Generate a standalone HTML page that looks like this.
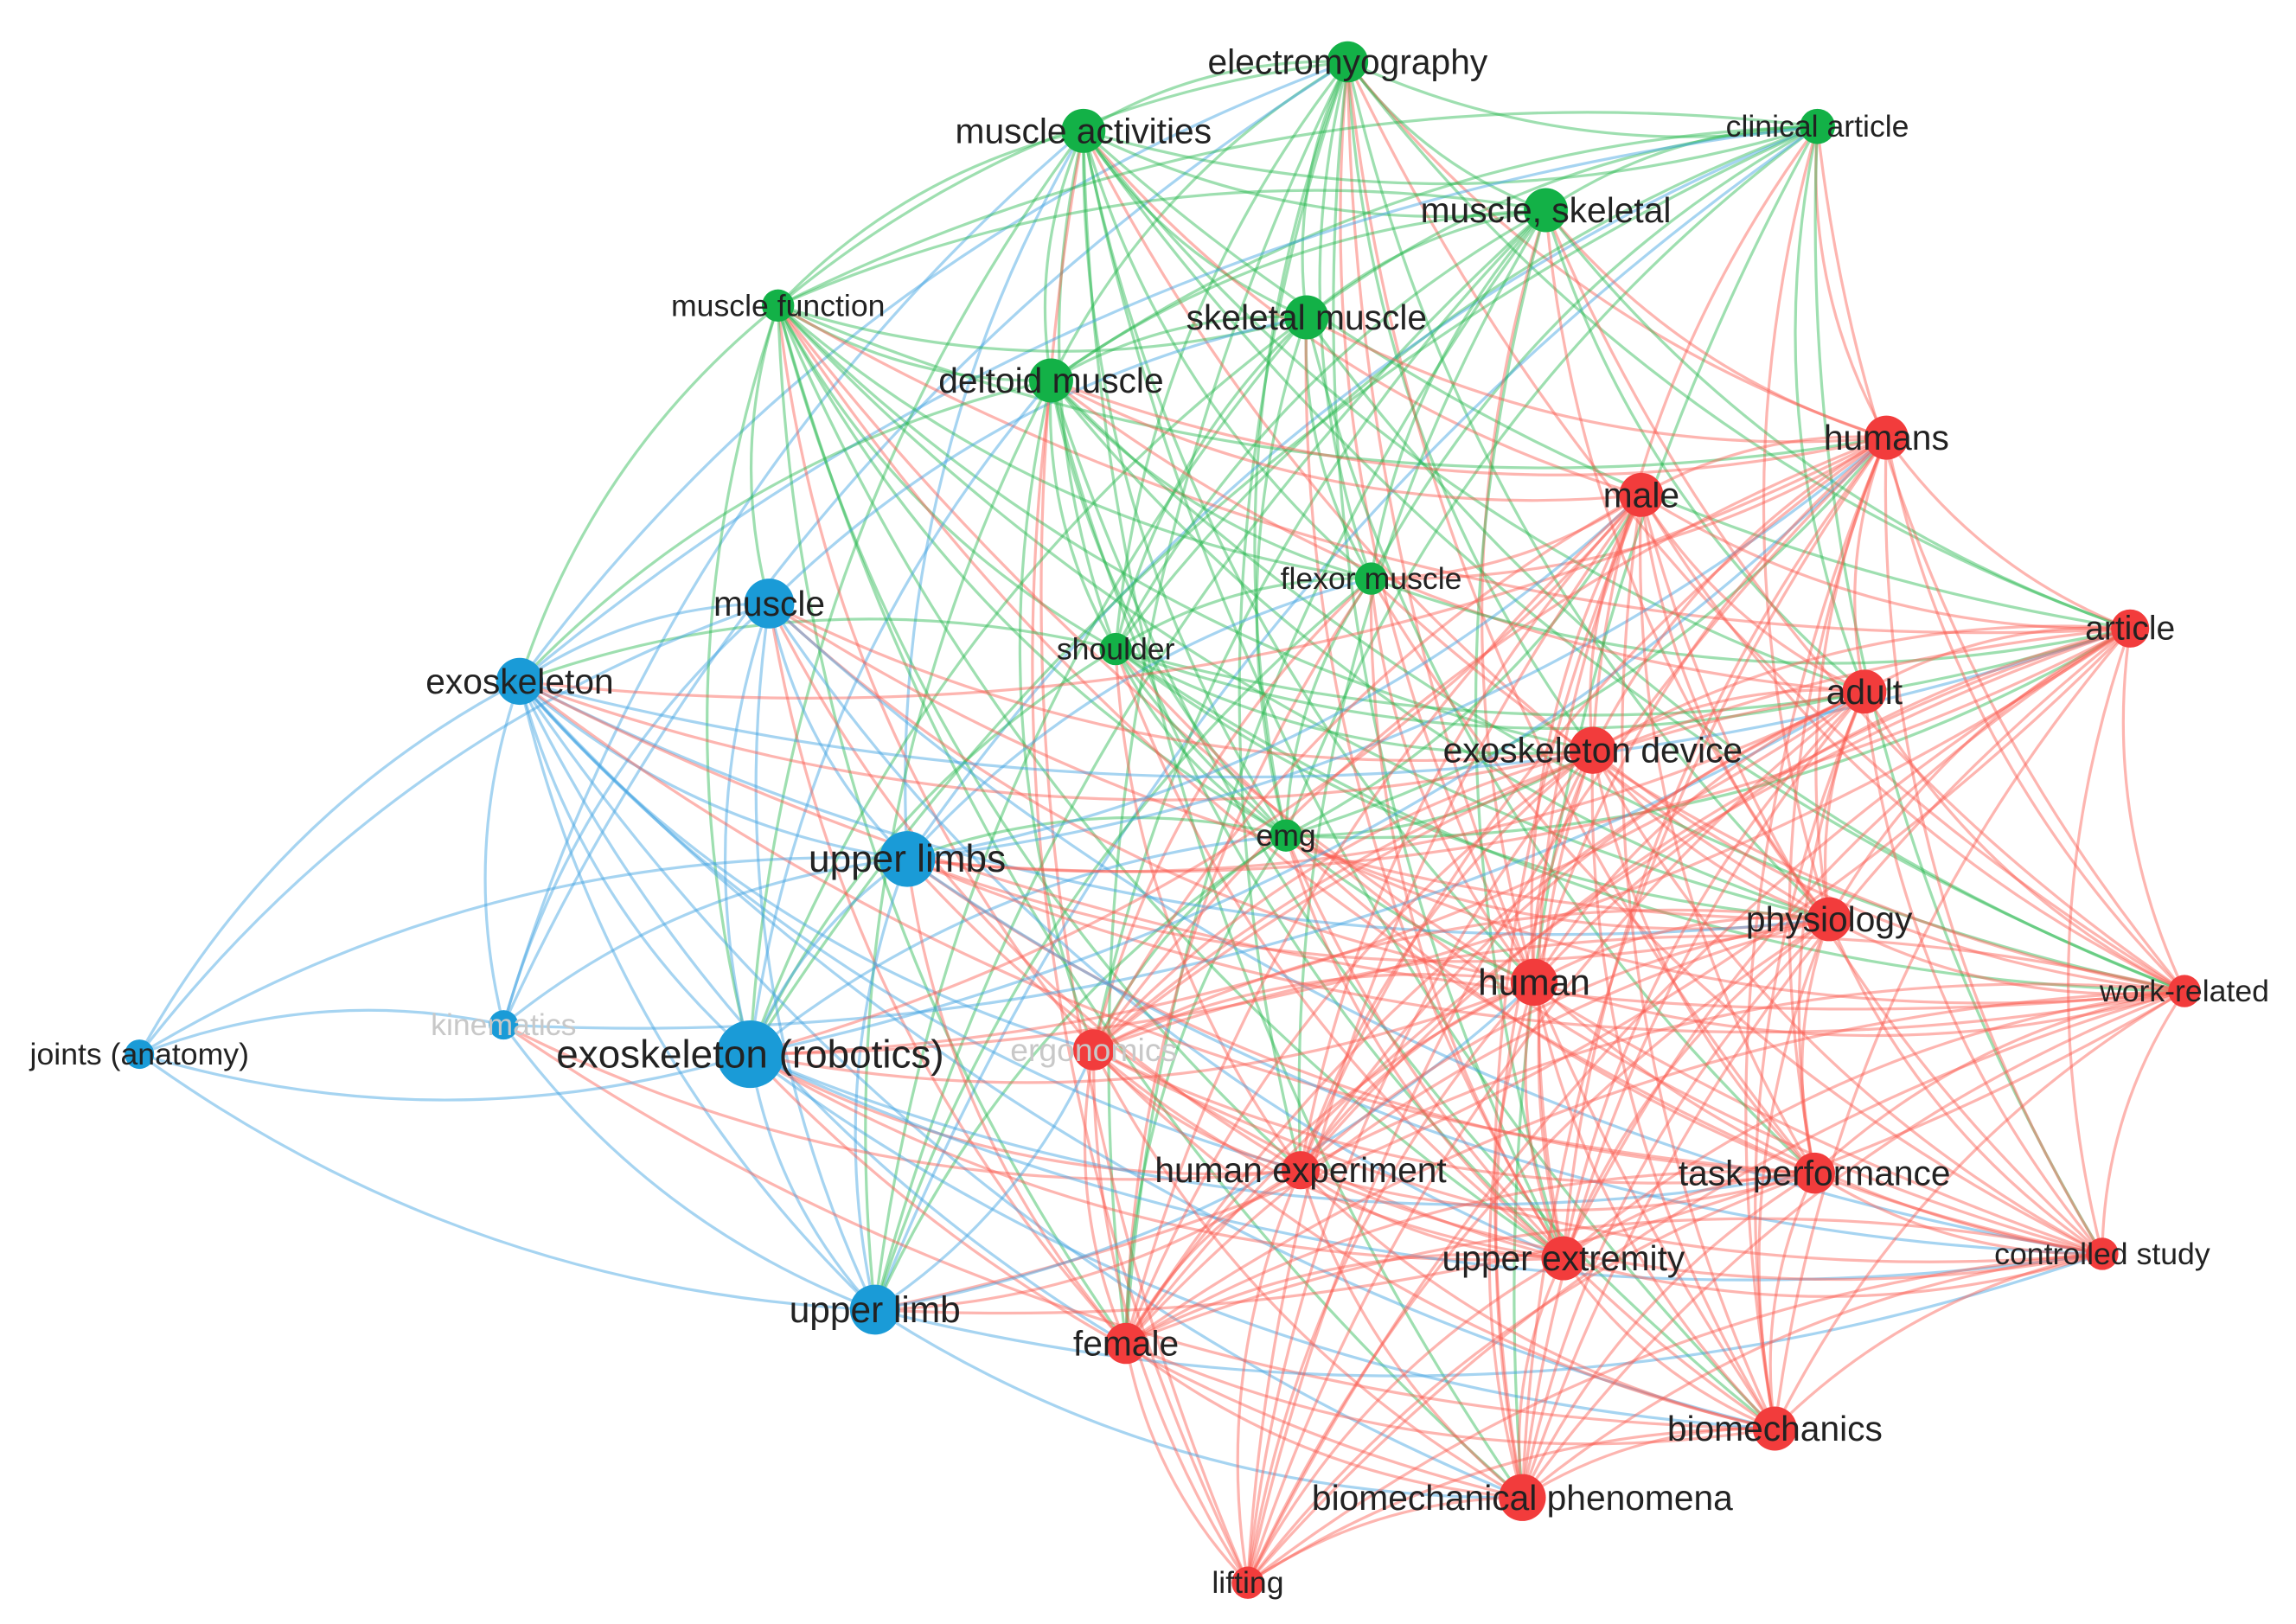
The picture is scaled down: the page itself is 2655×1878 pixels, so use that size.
<!DOCTYPE html>
<html><head><meta charset="utf-8">
<style>
html,body{margin:0;padding:0;background:#fff;width:2655px;height:1878px;overflow:hidden}
svg{display:block}
text{font-family:"Liberation Sans","DejaVu Sans",sans-serif;fill:#222;text-anchor:middle;dominant-baseline:central}
</style></head><body>
<svg id="s" width="2655" height="1878" viewBox="0 0 1564 1106" xmlns="http://www.w3.org/2000/svg">
<g id="edges" fill="none" stroke-width="1.9"></g>
<g id="nodes"></g>
<g id="labels"></g>
</svg>
<script>
var N=[
["electromyography",918,42,14,"g",24],
["muscle activities",738,89,15,"g",24],
["clinical article",1238,86,12,"g",21],
["muscle, skeletal",1053,143,15,"g",24],
["muscle function",530,208,11,"g",21],
["skeletal muscle",890,216,15,"g",24],
["deltoid muscle",716,259,15,"g",24],
["flexor muscle",934,394,11,"g",21],
["shoulder",760,442,11,"g",21],
["emg",876,569,11,"g",21],
["muscle",524,411,17,"b",24],
["exoskeleton",354,464,16,"b",24],
["upper limbs",618,585,19,"b",26],
["kinematics",343,698,10,"b",21],
["joints (anatomy)",95,718,10,"b",21],
["exoskeleton (robotics)",511,718,23,"b",27],
["upper limb",596,892,17,"b",25],
["humans",1285,298,15,"r",24],
["male",1118,337,15,"r",24],
["article",1451,428,13,"r",23],
["adult",1270,471,15,"r",24],
["exoskeleton device",1085,511,16,"r",24],
["physiology",1246,626,15,"r",24],
["human",1045,669,16,"r",25],
["work-related",1488,675,11,"r",21],
["ergonomics",745,715,14,"r",22],
["human experiment",886,797,13,"r",24],
["task performance",1236,799,14,"r",24],
["upper extremity",1065,857,15,"r",24],
["controlled study",1432,854,11,"r",21],
["female",767,915,14,"r",24],
["biomechanics",1209,973,15,"r",24],
["biomechanical phenomena",1037,1020,16,"r",24],
["lifting",850,1078,11,"r",21]
];
var C={g:"rgba(40,185,80,0.45)",b:"rgba(70,165,225,0.48)",r:"rgba(250,90,80,0.45)"};
var F={g:"#13b147",b:"#1a9bd7",r:"#f23c3c"};
var seed=7;function rnd(){seed=(seed*16807)%2147483647;return seed/2147483647;}
var e="",n="",l="";
for(var i=0;i<N.length;i++)for(var j=i+1;j<N.length;j++){
 var a=N[i],b=N[j];
 var p=(a[4]==b[4])?0.97:0.6;
 var ja=a[0]=="joints (anatomy)",jb=b[0]=="joints (anatomy)";
 if(ja||jb){var o=ja?b:a;p=(o[4]=="b")?1:0.0;}
 if(a[0]=="kinematics"||b[0]=="kinematics")p*=0.6;
 if(a[0]=="lifting"||b[0]=="lifting"){var o=a[0]=="lifting"?b:a;if(o[4]!="r")p=0.15;}
 if(rnd()>p)continue;
 var dx=b[1]-a[1],dy=b[2]-a[2];
 var mx=(a[1]+b[1])/2-dy*0.15,my=(a[2]+b[2])/2+dx*0.15;
 var col=(rnd()<0.5)?C[a[4]]:C[b[4]];
 e+='<path d="M'+a[1]+' '+a[2]+'Q'+mx.toFixed(1)+' '+my.toFixed(1)+' '+b[1]+' '+b[2]+'" stroke="'+col+'"/>';
}
for(var i=0;i<N.length;i++){var a=N[i];
 n+='<circle cx="'+a[1]+'" cy="'+a[2]+'" r="'+a[3]+'" fill="'+F[a[4]]+'"/>';
 var op=(a[0]=="ergonomics"||a[0]=="kinematics")?' style="fill:#c8c8c8"':'';
 l+='<text x="'+a[1]+'" y="'+a[2]+'" font-size="'+a[5]+'"'+op+'>'+a[0]+'</text>';
}
document.getElementById("edges").innerHTML=e;
document.getElementById("nodes").innerHTML=n;
document.getElementById("labels").innerHTML=l;
</script>
</body></html>
